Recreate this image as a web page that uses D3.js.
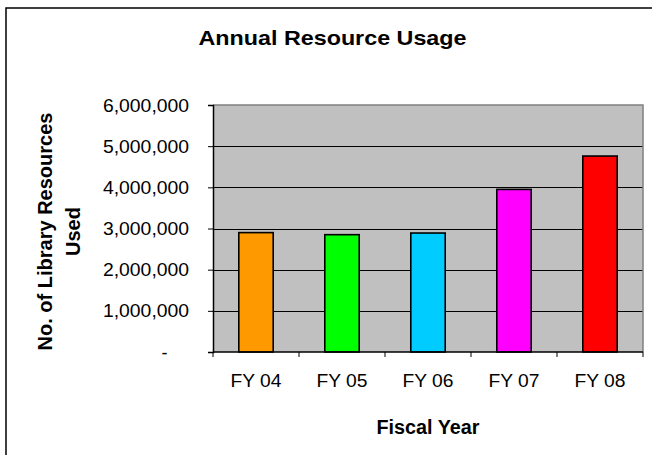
<!DOCTYPE html>
<html>
<head>
<meta charset="utf-8">
<script src="https://cdn.jsdelivr.net/npm/d3@7"></script>
<style>
  html, body { margin: 0; padding: 0; background: #fff; }
  svg { display: block; font-family: "Liberation Sans", Arial, sans-serif; }
</style>
</head>
<body>
<svg id="chart" width="652" height="455"></svg>
<script>
// Fiscal years and number of library resources used
const years = ["FY 04", "FY 05", "FY 06", "FY 07", "FY 08"];
const usage = [2900000, 2850000, 2890000, 3950000, 4760000];
const barColors = ["#FF9900", "#00FF00", "#00CCFF", "#FF00FF", "#FF0000"];
const yTicks = [0, 1000000, 2000000, 3000000, 4000000, 5000000, 6000000];

const svg = d3.select("#chart");
const plot = { left: 213, right: 643, top: 105, bottom: 352 };

// outer chart frame
svg.append("rect")
  .attr("x", 6).attr("y", 8)
  .attr("width", 680).attr("height", 480)
  .attr("fill", "#fff").attr("stroke", "#000").attr("stroke-width", 1.5);

const x = d3.scaleBand()
  .domain(years)
  .range([plot.left, plot.right])
  .paddingInner(0.6)
  .paddingOuter(0.3);

const y = d3.scaleLinear()
  .domain([0, 6000000])
  .range([plot.bottom, plot.top]);

// plot background
svg.append("rect")
  .attr("x", plot.left).attr("y", plot.top)
  .attr("width", plot.right - plot.left).attr("height", plot.bottom - plot.top)
  .attr("fill", "#C0C0C0");

// horizontal gridlines
svg.append("g").selectAll("line")
  .data(yTicks.filter(v => v > 0 && v < 6000000))
  .join("line")
  .attr("x1", plot.left).attr("x2", plot.right)
  .attr("y1", d => Math.round(y(d)) + 0.5).attr("y2", d => Math.round(y(d)) + 0.5)
  .attr("stroke", "#000").attr("stroke-width", 1);

// plot border (top and right)
svg.append("path")
  .attr("d", `M${plot.left},${plot.top}H${plot.right}V${plot.bottom}`)
  .attr("fill", "none").attr("stroke", "#808080").attr("stroke-width", 1.5);

// bars
svg.append("g").selectAll("rect")
  .data(years.map((d, i) => ({ year: d, value: usage[i], color: barColors[i] })))
  .join("rect")
  .attr("x", d => x(d.year))
  .attr("y", d => y(d.value))
  .attr("width", x.bandwidth())
  .attr("height", d => y(0) - y(d.value))
  .attr("fill", d => d.color)
  .attr("stroke", "#000").attr("stroke-width", 1.6);

// y axis
const fmt = d3.format(",");
const yAxis = svg.append("g")
  .attr("transform", `translate(${plot.left},0)`)
  .call(d3.axisLeft(y).tickValues(yTicks).tickSize(5).tickPadding(19)
    .tickFormat(d => d === 0 ? "-" : fmt(d)));
yAxis.select(".domain").attr("stroke", "#000").attr("stroke-width", 1.5);
yAxis.selectAll(".tick line").attr("stroke", "#000").attr("stroke-width", 1);
yAxis.selectAll(".tick text")
  .attr("font-size", 18)
  .attr("fill", "#000")
  .attr("font-family", "Liberation Sans, Arial, sans-serif")
  .attr("dy", "0.34em")
  .each(function(d) {
    const t = d3.select(this);
    if (d === 0) {
      t.attr("dx", -21.5);
    } else {
      t.attr("textLength", 86).attr("lengthAdjust", "spacingAndGlyphs");
    }
  });

// x axis: baseline, category boundary ticks, labels
const step = x.step();
const bounds = years.map(d => x(d) - step * 0.3).concat([plot.right]);
const xg = svg.append("g");
xg.append("line")
  .attr("x1", plot.left).attr("x2", plot.right)
  .attr("y1", plot.bottom).attr("y2", plot.bottom)
  .attr("stroke", "#000").attr("stroke-width", 1.5);
xg.selectAll("line.tick")
  .data(bounds)
  .join("line")
  .attr("class", "tick")
  .attr("x1", d => d).attr("x2", d => d)
  .attr("y1", plot.bottom).attr("y2", plot.bottom + 5)
  .attr("stroke", "#000").attr("stroke-width", 1);
xg.selectAll("text")
  .data(years)
  .join("text")
  .attr("x", d => x(d) + x.bandwidth() / 2)
  .attr("y", 387)
  .attr("text-anchor", "middle")
  .attr("font-size", 18)
  .attr("textLength", 51)
  .attr("lengthAdjust", "spacingAndGlyphs")
  .text(d => d);

// titles
svg.append("text")
  .attr("x", 332.5).attr("y", 45)
  .attr("text-anchor", "middle")
  .attr("font-size", 21).attr("font-weight", "bold")
  .attr("textLength", 268).attr("lengthAdjust", "spacingAndGlyphs")
  .text("Annual Resource Usage");

svg.append("text")
  .attr("x", (plot.left + plot.right) / 2).attr("y", 434)
  .attr("text-anchor", "middle")
  .attr("font-size", 20).attr("font-weight", "bold")
  .attr("textLength", 103).attr("lengthAdjust", "spacingAndGlyphs")
  .text("Fiscal Year");

const yTitle = svg.append("text")
  .attr("transform", `translate(52,231.5) rotate(-90)`)
  .attr("text-anchor", "middle")
  .attr("font-size", 20).attr("font-weight", "bold");
yTitle.append("tspan").attr("x", 0).attr("y", 0).text("No. of Library Resources");
yTitle.append("tspan").attr("x", 0).attr("y", 28).text("Used");
</script>
</body>
</html>
